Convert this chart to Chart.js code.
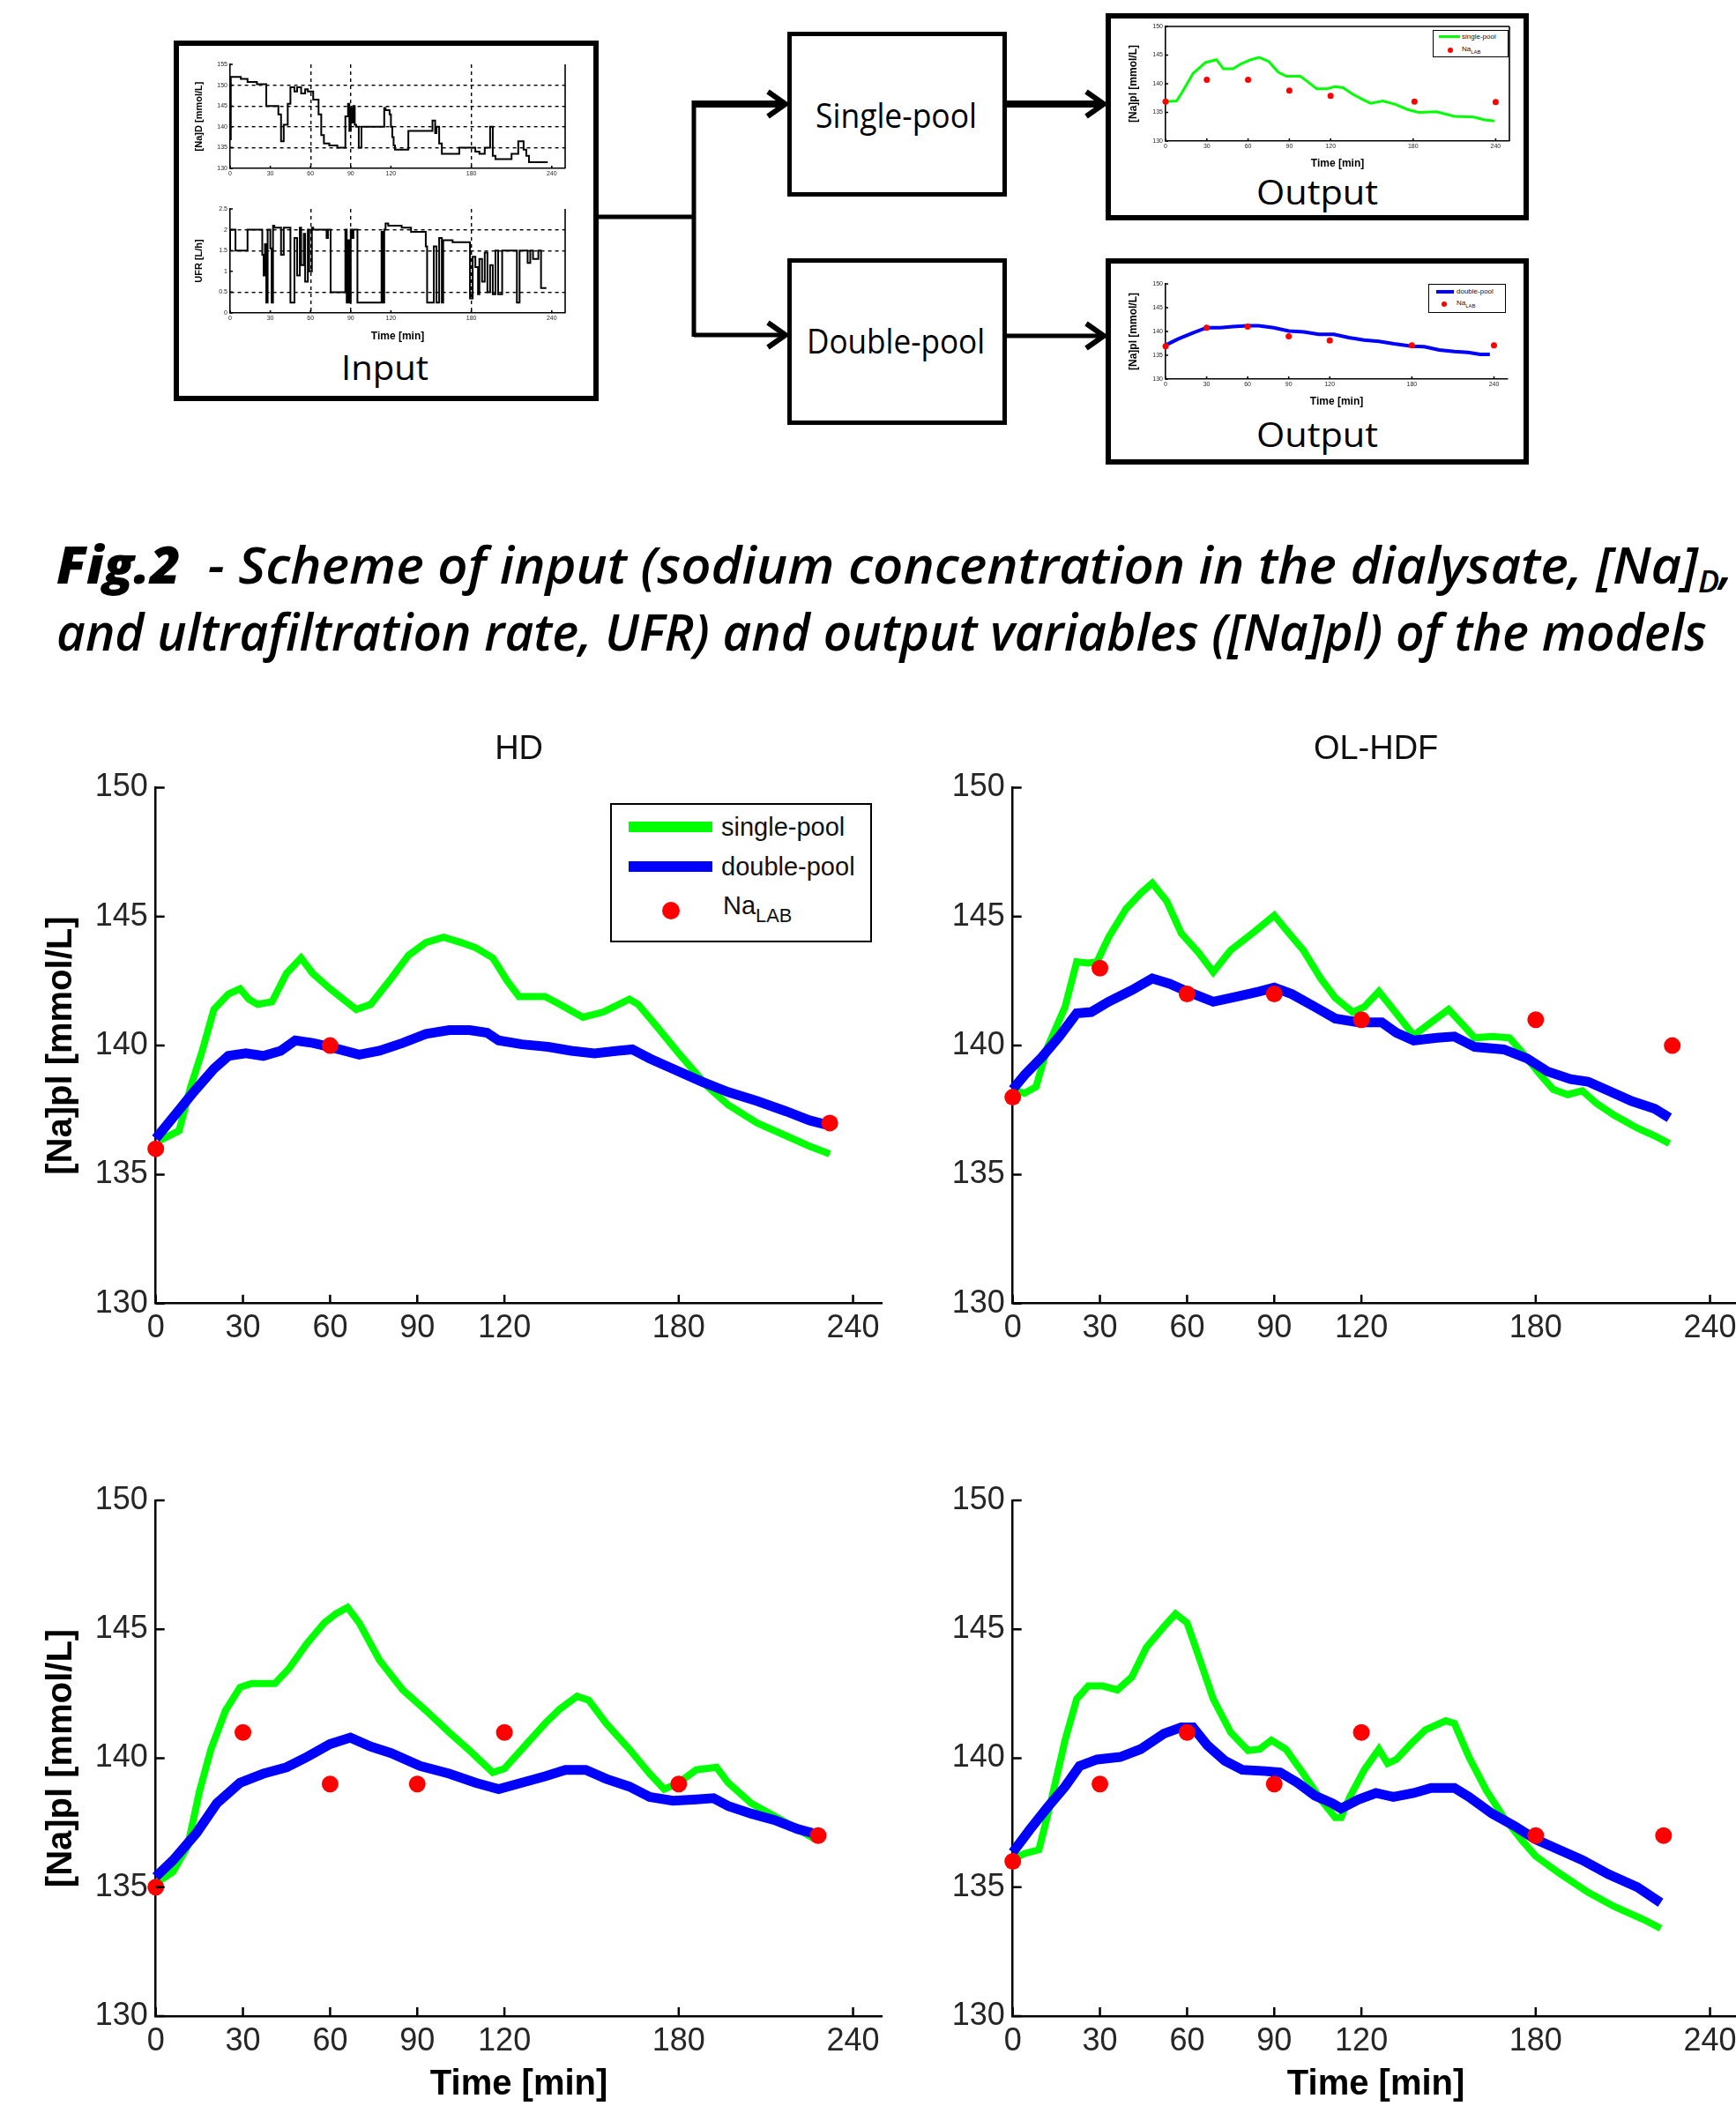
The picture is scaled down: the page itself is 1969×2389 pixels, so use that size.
<!DOCTYPE html>
<html>
<head>
<meta charset="utf-8">
<title>Fig.2 - [Na]pl models</title>
<script src="https://cdn.jsdelivr.net/npm/chart.js@4.4.1/dist/chart.umd.min.js"></script>
<style>
  html, body { margin: 0; padding: 0; background: #fff; }
  body { position: relative; width: 1969px; height: 2389px; overflow: hidden; font-family: 'Liberation Sans', Arial, sans-serif; }
  canvas { position: absolute; }
  svg { position: absolute; left: 0; top: 0; }
  .fit { position: absolute; white-space: nowrap; transform-origin: left center; line-height: 1; }
  .box-label { font-family: 'Open Sans', sans-serif; font-size: 38px; color: #000; }
  .caption { font-family: 'Open Sans', sans-serif; font-style: italic; font-weight: 600; font-size: 58px; color: #000; }
  .caption b { font-weight: 800; }
  .caption sub { font-size: 60%; vertical-align: -0.3em; line-height: 0; }
  .legend { position: absolute; background: #fff; border: 2px solid #000; box-sizing: border-box; }
  .legend .sw { position: absolute; }
  .legend .dot { position: absolute; border-radius: 50%; background: #ff0000; }
  .legend .tx { position: absolute; white-space: nowrap; transform: translateY(-50%); line-height: 1; color: #111; }
  .legend sub { font-size: 75%; vertical-align: -0.45em; line-height: 0; }
</style>
</head>
<body>

<svg width="1969" height="560">
  <g fill="none" stroke="#000">
    <rect x="200" y="49" width="476" height="403" stroke-width="6"/>
    <rect x="895.5" y="38.5" width="244" height="182" stroke-width="5"/>
    <rect x="895.5" y="295.5" width="244" height="184" stroke-width="5"/>
    <rect x="1257" y="18" width="474" height="229" stroke-width="6"/>
    <rect x="1257" y="296" width="474" height="228" stroke-width="6"/>
    <path d="M679 246 H787" stroke-width="5"/>
    <path d="M787 114 V382" stroke-width="5"/>
    <path d="M785 118 H889" stroke-width="8"/>
    <path d="M787 380 H889" stroke-width="5"/>
    <path d="M1142 118 H1250" stroke-width="8"/>
    <path d="M1142 381 H1250" stroke-width="5"/>
    <path d="M871 104 L891 118 L871 132" stroke-width="6"/>
    <path d="M871 366 L891 380 L871 394" stroke-width="6"/>
    <path d="M1232 104 L1252 118 L1232 132" stroke-width="6"/>
    <path d="M1232 367 L1252 381 L1232 395" stroke-width="6"/>
  </g>
</svg>

<span class="fit box-label" data-cx="436" data-cy="416" data-w="99">Input</span>
<span class="fit box-label" data-cx="1016" data-cy="130" data-w="183">Single-pool</span>
<span class="fit box-label" data-cx="1016" data-cy="386" data-w="202">Double-pool</span>
<span class="fit box-label" data-cx="1494" data-cy="217" data-w="138">Output</span>
<span class="fit box-label" data-cx="1494" data-cy="492" data-w="138">Output</span>

<canvas id="inNa"></canvas>
<canvas id="inUfr"></canvas>
<canvas id="outSingle"></canvas>
<canvas id="outDouble"></canvas>

<div class="legend" style="left:1625px;top:34px;width:86px;height:31px;border-width:1.5px;">
  <div class="sw" style="left:6px;top:5px;width:24px;height:3px;background:#00ff00;"></div>
  <div class="tx" style="left:32px;top:7px;font-size:8px;">single-pool</div>
  <div class="dot" style="left:16px;top:19px;width:6px;height:6px;"></div>
  <div class="tx" style="left:32px;top:21px;font-size:8px;">Na<sub>LAB</sub></div>
</div>
<div class="legend" style="left:1620px;top:322px;width:88px;height:33px;border-width:1.5px;">
  <div class="sw" style="left:8px;top:6px;width:20px;height:4px;background:#0000ff;"></div>
  <div class="tx" style="left:31px;top:8px;font-size:8px;">double-pool</div>
  <div class="dot" style="left:14px;top:19px;width:6px;height:6px;"></div>
  <div class="tx" style="left:31px;top:21px;font-size:8px;">Na<sub>LAB</sub></div>
</div>

<span class="fit caption" data-x="64" data-cy="640" data-w="1902"><b>Fig.2</b>&nbsp;&nbsp;- Scheme of input (sodium concentration in the dialysate, [Na]<sub>D</sub>,</span>
<span class="fit caption" data-x="64" data-cy="716" data-w="1872">and ultrafiltration rate, UFR) and output variables ([Na]pl) of the models</span>

<canvas id="hdTop"></canvas>
<canvas id="olTop"></canvas>
<canvas id="hdBottom"></canvas>
<canvas id="olBottom"></canvas>

<div class="legend" style="left:692px;top:911px;width:297px;height:158px;">
  <div class="sw" style="left:19px;top:19px;width:95px;height:12px;background:#00ff00;"></div>
  <div class="tx" style="left:124px;top:25px;font-size:29px;">single-pool</div>
  <div class="sw" style="left:19px;top:64px;width:95px;height:12px;background:#0000ff;"></div>
  <div class="tx" style="left:124px;top:70px;font-size:29px;">double-pool</div>
  <div class="dot" style="left:57px;top:110px;width:20px;height:20px;"></div>
  <div class="tx" style="left:126px;top:114px;font-size:29px;">Na<sub>LAB</sub></div>
</div>

<script>
var FONT = "'Liberation Sans', Arial, sans-serif";
var GREEN = '#00ff00';
var BLUE = '#0000ff';
var RED = '#ff0000';

var timeTicks = [0, 30, 60, 90, 120, 180, 240];
var naTicks = [130, 135, 140, 145, 150];

// HD, top
var hdSingleT = [1, 8, 12, 16, 20, 25, 29, 32, 35, 40, 45, 50, 54, 60, 69, 74, 81, 87, 93, 99, 105, 110, 116, 121, 125, 134, 139, 147, 154, 163, 166, 172, 180, 190, 197, 207, 217, 225, 232];
var hdSingleV = [136.3, 136.7, 138.4, 139.8, 141.4, 142.0, 142.2, 141.8, 141.6, 141.7, 142.8, 143.4, 142.8, 142.2, 141.4, 141.6, 142.6, 143.5, 144.0, 144.2, 144.0, 143.8, 143.4, 142.5, 141.9, 141.9, 141.6, 141.1, 141.3, 141.8, 141.6, 140.8, 139.7, 138.4, 137.7, 137.0, 136.5, 136.1, 135.8];
var hdDoubleT = [0, 8, 13, 20, 25, 31, 37, 43, 48, 54, 60, 70, 77, 85, 93, 101, 108, 114, 118, 126, 135, 143, 151, 159, 164, 170, 178, 188, 197, 207, 217, 225, 232];
var hdDoubleV = [136.4, 137.5, 138.2, 139.1, 139.6, 139.7, 139.6, 139.8, 140.2, 140.1, 139.95, 139.65, 139.8, 140.1, 140.45, 140.6, 140.6, 140.5, 140.2, 140.05, 139.95, 139.8, 139.7, 139.8, 139.85, 139.5, 139.1, 138.6, 138.2, 137.85, 137.45, 137.1, 136.9];
var hdLabT = [0, 60, 232];
var hdLabV = [136, 140, 137];

// OL-HDF, top
var olSingleT = [0, 4, 8, 12, 18, 22, 26, 29, 33, 39, 44, 48, 53, 58, 64, 69, 75, 83, 90, 94, 100, 106, 111, 117, 121, 126, 131, 138, 144, 150, 155, 159, 165, 171, 176, 181, 186, 191, 196, 201, 207, 215, 221, 226];
var olSingleV = [138.3, 138.15, 138.4, 139.95, 141.5, 143.25, 143.2, 143.25, 144.2, 145.3, 145.9, 146.3, 145.6, 144.35, 143.6, 142.85, 143.7, 144.4, 145.05, 144.5, 143.7, 142.6, 141.85, 141.3, 141.5, 142.1, 141.4, 140.4, 140.9, 141.4, 140.8, 140.3, 140.35, 140.3, 139.65, 138.95, 138.3, 138.1, 138.25, 137.75, 137.3, 136.8, 136.5, 136.2];
var olDoubleT = [0, 4, 10, 16, 22, 27, 33, 41, 48, 54, 60, 69, 77, 85, 90, 96, 104, 111, 119, 127, 132, 138, 146, 152, 159, 169, 177, 184, 192, 198, 205, 213, 221, 226];
var olDoubleV = [138.3, 138.85, 139.55, 140.35, 141.25, 141.3, 141.7, 142.15, 142.6, 142.4, 142.1, 141.7, 141.9, 142.1, 142.25, 142.0, 141.5, 141.05, 140.9, 140.9, 140.5, 140.2, 140.3, 140.35, 139.95, 139.85, 139.5, 139.0, 138.7, 138.6, 138.25, 137.85, 137.55, 137.2];
var olLabT = [0, 30, 60, 90, 120, 180, 227];
var olLabV = [138, 143, 142, 142, 141, 141, 140];

// HD, bottom
var hd2SingleT = [0, 6, 11, 15, 19, 24, 29, 33, 41, 46, 52, 58, 62, 66, 70, 77, 85, 93, 101, 108, 116, 120, 126, 134, 139, 145, 149, 155, 163, 170, 175, 180, 186, 193, 197, 205, 213, 221, 227];
var hd2SingleV = [135.15, 135.6, 136.6, 138.7, 140.35, 141.85, 142.75, 142.9, 142.9, 143.5, 144.45, 145.25, 145.6, 145.85, 145.25, 143.8, 142.65, 141.85, 141.0, 140.3, 139.45, 139.6, 140.35, 141.35, 141.9, 142.4, 142.25, 141.35, 140.35, 139.4, 138.8, 139.05, 139.55, 139.65, 139.05, 138.25, 137.75, 137.25, 136.85];
var hd2DoubleT = [0, 6, 14, 21, 29, 37, 45, 52, 60, 67, 74, 81, 91, 101, 110, 118, 126, 134, 141, 148, 155, 163, 170, 178, 186, 192, 197, 205, 213, 221, 226];
var hd2DoubleV = [135.4, 136.05, 137.1, 138.25, 139.05, 139.4, 139.65, 140.05, 140.55, 140.8, 140.45, 140.2, 139.7, 139.4, 139.05, 138.8, 139.05, 139.3, 139.55, 139.55, 139.2, 138.9, 138.5, 138.35, 138.4, 138.45, 138.15, 137.85, 137.6, 137.25, 137.1];
var hd2LabT = [0, 30, 60, 90, 120, 180, 228];
var hd2LabV = [135, 141, 139, 139, 141, 139, 137];

// OL-HDF, bottom
var ol2SingleT = [0, 4, 9, 13, 18, 22, 26, 31, 36, 41, 46, 52, 56, 60, 64, 69, 75, 81, 85, 89, 94, 100, 106, 111, 113, 116, 121, 126, 129, 132, 137, 142, 149, 152, 157, 163, 169, 175, 180, 188, 198, 207, 217, 223];
var ol2SingleV = [136.1, 136.3, 136.45, 138.25, 140.7, 142.3, 142.8, 142.8, 142.65, 143.15, 144.3, 145.1, 145.6, 145.25, 143.95, 142.3, 141.0, 140.3, 140.35, 140.7, 140.35, 139.4, 138.4, 137.7, 137.7, 138.5, 139.55, 140.35, 139.8, 139.95, 140.55, 141.1, 141.45, 141.35, 140.05, 138.75, 137.7, 136.85, 136.2, 135.55, 134.8, 134.25, 133.75, 133.4];
var ol2DoubleT = [0, 6, 12, 18, 23, 29, 37, 44, 52, 58, 62, 67, 73, 79, 87, 92, 98, 104, 110, 113, 119, 125, 131, 138, 144, 152, 157, 165, 173, 180, 188, 196, 205, 215, 223];
var ol2DoubleV = [136.35, 137.25, 138.1, 138.9, 139.7, 139.95, 140.05, 140.35, 140.95, 141.2, 141.2, 140.5, 139.9, 139.55, 139.5, 139.45, 139.05, 138.55, 138.25, 138.05, 138.4, 138.65, 138.5, 138.65, 138.85, 138.85, 138.5, 137.85, 137.35, 136.85, 136.45, 136.05, 135.5, 135.0, 134.4];
var ol2LabT = [0, 30, 60, 90, 120, 180, 224];
var ol2LabV = [136, 139, 141, 139, 141, 137, 137];

// scheme: input traces (step values from each time on)
var naDTicks = [130, 135, 140, 145, 150, 155];
var naDT = [0, 0.5, 8, 13, 20, 27, 36, 38, 40, 43, 45, 48, 50, 53, 56, 58, 62, 66, 68, 70, 74, 80, 86, 88, 89, 90, 91, 92, 93, 94, 96, 98, 115, 116, 119, 120, 121, 122, 123, 133, 151, 153, 154, 156, 158, 164, 171, 183, 186, 190, 194, 196, 198, 210, 215, 219, 221, 223, 229, 237];
var naDV = [140.5, 137, 152, 151.5, 150.75, 150.25, 145, 143, 136.5, 140.5, 145.5, 149.5, 148.5, 149.5, 148, 149, 148.5, 146.5, 143, 138, 136, 135.5, 135, 142.5, 145.5, 139, 144.5, 141, 145, 140.5, 140, 135, 140, 144.5, 144, 143, 140, 137.5, 135.5, 134.5, 139, 141.5, 138.5, 140, 136, 133.5, 133.5, 135, 134, 133.5, 135, 140, 133, 132.25, 133.5, 136.5, 134.5, 133, 131.5, 131.5];
var ufrTicks = [0, 0.5, 1, 1.5, 2, 2.5];
var ufrT = [0, 4, 6, 13, 24, 25, 26, 27, 28, 30, 31, 32, 33, 38, 40, 42, 45, 48, 50, 52, 53, 55, 56, 58, 59, 61, 62, 72, 73, 75, 86, 87, 88, 89, 90, 91, 92, 95, 113, 114, 115, 116, 118, 128, 135, 146, 147, 152, 154, 156, 158, 159, 166, 179, 181, 183, 185, 186, 188, 190, 192, 194, 196, 198, 200, 203, 205, 214, 216, 222, 224, 226, 230, 232, 234, 236];
var ufrV = [1.5, 2, 1.5, 1.5, 2, 1.4, 0.9, 1.65, 0.25, 2, 1.55, 0.25, 2.1, 2.05, 1.4, 2.05, 2.05, 0.25, 1.8, 0.9, 2.05, 1.15, 1.9, 0.75, 2, 1, 2.05, 2, 1.8, 2, 0.5, 2, 0.25, 1.75, 0.25, 2, 1.8, 2, 0.25, 1.95, 0.25, 2, 2.15, 2.1, 2.05, 1.95, 1.6, 0.25, 1.6, 0.25, 1.8, 0.25, 1.75, 1.7, 0.35, 1.35, 1.1, 0.45, 1.3, 0.75, 1.45, 0.5, 1.15, 0.45, 1.5, 0.45, 1.5, 1.5, 0.25, 1.5, 1.2, 1.5, 1.3, 1.5, 0.6, 0.6];

// scheme: output thumbnails
var out1SingleT = [0, 8, 12, 20, 29, 37, 42, 49, 55, 62, 68, 75, 82, 88, 98, 102, 110, 117, 123, 129, 136, 143, 149, 158, 167, 176, 184, 197, 210, 224, 232, 239];
var out1SingleV = [136.9, 137.0, 138.5, 141.8, 143.7, 144.2, 142.6, 142.6, 143.5, 144.2, 144.6, 143.9, 142.0, 141.3, 141.3, 140.6, 139.1, 139.1, 139.5, 139.3, 138.2, 137.3, 136.6, 137.0, 136.4, 135.5, 135.0, 135.1, 134.3, 134.2, 133.7, 133.5];
var out1LabT = [0, 30, 60, 90, 120, 181, 240];
var out1LabV = [136.9, 140.7, 140.7, 138.8, 137.9, 136.9, 136.8];
var out2DoubleT = [0, 9, 20, 30, 40, 49, 60, 68, 79, 90, 101, 112, 123, 134, 145, 156, 167, 180, 189, 200, 211, 221, 230, 237];
var out2DoubleV = [137.1, 138.4, 139.7, 140.8, 140.8, 141.0, 141.2, 141.2, 140.8, 140.1, 139.9, 139.4, 139.4, 138.7, 138.2, 137.9, 137.4, 136.9, 136.8, 136.1, 135.8, 135.6, 135.2, 135.2];
var out2LabT = [0, 30, 60, 90, 120, 180, 240];
var out2LabV = [136.9, 140.8, 141.0, 139.0, 138.1, 137.1, 137.1];

function points(t, v) {
	return t.map(function (x, i) { return {x: x, y: v[i]}; });
}

function lineSet(t, v, color, width, order, stepped) {
	return {data: points(t, v), borderColor: color, backgroundColor: color, borderWidth: width,
		pointRadius: 0, tension: 0, fill: false, clip: false, order: order, stepped: stepped || false};
}

function dotSet(t, v, radius) {
	return {data: points(t, v), showLine: false, pointRadius: radius, pointBackgroundColor: RED,
		pointBorderWidth: 0, borderColor: RED, clip: false, order: 0};
}

// tick marks pointing into the plot, as MATLAB draws them
var innerTicks = {
	id: 'innerTicks',
	afterDraw: function (chart, args, opts) {
		var ctx = chart.ctx, a = chart.chartArea, x = chart.scales.x, y = chart.scales.y;
		ctx.save();
		ctx.strokeStyle = '#000';
		ctx.lineWidth = opts.width;
		ctx.beginPath();
		x.ticks.forEach(function (t) {
			var px = x.getPixelForValue(t.value);
			ctx.moveTo(px, a.bottom);
			ctx.lineTo(px, a.bottom - opts.len);
		});
		y.ticks.forEach(function (t) {
			var py = y.getPixelForValue(t.value);
			ctx.moveTo(a.left, py);
			ctx.lineTo(a.left + opts.len, py);
		});
		ctx.stroke();
		ctx.restore();
	}
};

var frame = {
	id: 'frame',
	afterDraw: function (chart, args, opts) {
		if (!opts.sides) return;
		var ctx = chart.ctx, a = chart.chartArea;
		ctx.save();
		ctx.strokeStyle = '#000';
		ctx.lineWidth = opts.width;
		ctx.beginPath();
		if (opts.sides.indexOf('t') >= 0) { ctx.moveTo(a.left, a.top); ctx.lineTo(a.right, a.top); }
		if (opts.sides.indexOf('r') >= 0) { ctx.moveTo(a.right, a.top); ctx.lineTo(a.right, a.bottom); }
		ctx.stroke();
		ctx.restore();
	}
};

function makeChart(id, box, area, datasets, o) {
	var canvas = document.getElementById(id);
	canvas.width = box.w;
	canvas.height = box.h;
	canvas.style.left = box.x + 'px';
	canvas.style.top = box.y + 'px';

	var yWidth = area.left - box.x;
	var xHeight = box.y + box.h - area.bottom;
	var padTop = area.top - box.y;
	var title = {display: false};
	if (o.title) {
		var lh = o.titleSize * 1.2;
		var tTop = o.titleY - box.y - lh / 2;
		title = {display: true, text: o.title, fullSize: false, color: '#111',
			font: {family: FONT, size: o.titleSize, weight: 'normal', lineHeight: 1.2},
			padding: {top: tTop, bottom: padTop - lh - tTop}};
		padTop = 0;
	}

	function gridColor(list) {
		return function (c) {
			return (list && c.tick && list.indexOf(c.tick.value) >= 0) ? '#000' : 'rgba(0,0,0,0)';
		};
	}

	var tickFont = {family: FONT, size: o.tickSize};
	return new Chart(canvas.getContext('2d'), {
		type: 'line',
		data: {datasets: datasets},
		plugins: [innerTicks, frame],
		options: {
			responsive: false,
			animation: false,
			events: [],
			layout: {padding: {left: 0, right: box.x + box.w - area.right, top: padTop, bottom: 0}},
			plugins: {
				legend: {display: false},
				tooltip: {enabled: false},
				title: title,
				innerTicks: {len: o.tickLen, width: o.axisWidth},
				frame: {sides: o.frame, width: o.axisWidth}
			},
			scales: {
				x: {
					type: 'linear', min: 0, max: 250,
					afterBuildTicks: function (s) { s.ticks = timeTicks.map(function (v) { return {value: v}; }); },
					afterFit: function (s) { s.height = xHeight; },
					ticks: {font: tickFont, color: '#262626', padding: o.xPad, maxRotation: 0, autoSkip: false,
						callback: function (v) { return String(v); }},
					grid: {display: !!o.xGrid, drawTicks: false, color: gridColor(o.xGrid), lineWidth: o.gridWidth},
					border: {display: true, color: '#000', width: o.axisWidth, dash: o.dash},
					title: o.xTitle ? {display: true, text: o.xTitle.text, color: '#000',
						font: {family: FONT, size: o.xTitle.size, weight: 'bold', lineHeight: 1.2},
						padding: {top: 0, bottom: o.xTitle.pad}} : {display: false}
				},
				y: {
					min: o.yTicks[0], max: o.yTicks[o.yTicks.length - 1],
					afterBuildTicks: function (s) { s.ticks = o.yTicks.map(function (v) { return {value: v}; }); },
					afterFit: function (s) { s.width = yWidth; },
					ticks: {font: tickFont, color: '#262626', padding: o.yPad,
						callback: function (v) { return String(v); }},
					grid: {display: !!o.yGrid, drawTicks: false, color: gridColor(o.yGrid), lineWidth: o.gridWidth},
					border: {display: true, color: '#000', width: o.axisWidth, dash: o.dash},
					title: o.yTitle ? {display: true, text: o.yTitle.text, color: '#000',
						font: {family: FONT, size: o.yTitle.size, weight: 'bold', lineHeight: 1.2},
						padding: {top: o.yTitle.pad, bottom: 0}} : {display: false}
				}
			}
		}
	});
}

// main panels
var big = {tickSize: 36, xPad: 7, yPad: 9, axisWidth: 2.5, tickLen: 10, yTicks: naTicks};
var naTitle = {text: '[Na]pl [mmol/L]', size: 40, pad: 46};
var timeTitle = {text: 'Time [min]', size: 40, pad: 0};

function panel(id, x, y, h, top, bottom, sets, extra) {
	var area = {left: x + 176.7, right: x + 1002, top: top, bottom: bottom};
	var o = Object.assign({}, big, extra);
	makeChart(id, {x: x, y: y, w: 1010, h: h}, area, sets, o);
}

panel('hdTop', 0, 820, 740, 893.5, 1478.7, [
	lineSet(hdSingleT, hdSingleV, GREEN, 8, 2),
	lineSet(hdDoubleT, hdDoubleV, BLUE, 11, 1),
	dotSet(hdLabT, hdLabV, 9.5)
], {title: 'HD', titleY: 851, titleSize: 38, yTitle: naTitle});

panel('olTop', 972.3, 820, 740, 893.5, 1478.7, [
	lineSet(olSingleT, olSingleV, GREEN, 8, 2),
	lineSet(olDoubleT, olDoubleV, BLUE, 11, 1),
	dotSet(olLabT, olLabV, 9.5)
], {title: 'OL-HDF', titleY: 851, titleSize: 38});

panel('hdBottom', 0, 1640, 749, 1702, 2287, [
	lineSet(hd2SingleT, hd2SingleV, GREEN, 8, 2),
	lineSet(hd2DoubleT, hd2DoubleV, BLUE, 11, 1),
	dotSet(hd2LabT, hd2LabV, 9.5)
], {yTitle: naTitle, xTitle: timeTitle});

panel('olBottom', 972.3, 1640, 749, 1702, 2287, [
	lineSet(ol2SingleT, ol2SingleV, GREEN, 8, 2),
	lineSet(ol2DoubleT, ol2DoubleV, BLUE, 11, 1),
	dotSet(ol2LabT, ol2LabV, 9.5)
], {xTitle: timeTitle});

// thumbnails inside the scheme
var mini = {tickSize: 7, xPad: 2, yPad: 3, axisWidth: 1.6, tickLen: 3, gridWidth: 1.4, dash: [4, 4]};

makeChart('inNa', {x: 205, y: 62, w: 445, h: 150}, {left: 261, top: 73, right: 641, bottom: 191},
	[lineSet(naDT, naDV, '#000', 2, 1, 'after')],
	Object.assign({}, mini, {yTicks: naDTicks, xGrid: [60, 90, 180], yGrid: [135, 140, 145, 150], frame: 'r',
		yTitle: {text: '[Na]D [mmol/L]', size: 11, pad: 14}}));

makeChart('inUfr', {x: 205, y: 226, w: 445, h: 170}, {left: 261, top: 237, right: 641, bottom: 355},
	[lineSet(ufrT, ufrV, '#000', 2, 1, 'after')],
	Object.assign({}, mini, {yTicks: ufrTicks, xGrid: [60, 90, 180], yGrid: [0.5, 1.5, 2], frame: 'r',
		yTitle: {text: 'UFR [L/h]', size: 11, pad: 14},
		xTitle: {text: 'Time [min]', size: 12, pad: 7}}));

makeChart('outSingle', {x: 1262, y: 22, w: 460, h: 178}, {left: 1322, top: 30, right: 1712, bottom: 160},
	[lineSet(out1SingleT, out1SingleV, GREEN, 3, 2), dotSet(out1LabT, out1LabV, 3.5)],
	Object.assign({}, mini, {yTicks: naTicks, frame: 'tr',
		yTitle: {text: '[Na]pl [mmol/L]', size: 12, pad: 16},
		xTitle: {text: 'Time [min]', size: 12, pad: 7}}));

makeChart('outDouble', {x: 1262, y: 314, w: 460, h: 156}, {left: 1322, top: 322, right: 1710, bottom: 430},
	[lineSet(out2DoubleT, out2DoubleV, BLUE, 4, 1), dotSet(out2LabT, out2LabV, 3.5)],
	Object.assign({}, mini, {yTicks: naTicks,
		yTitle: {text: '[Na]pl [mmol/L]', size: 12, pad: 16},
		xTitle: {text: 'Time [min]', size: 12, pad: 7}}));

// squeeze the scheme and caption text to the widths in the figure
document.querySelectorAll('.fit').forEach(function (el) {
	var w = parseFloat(el.dataset.w);
	var left = el.dataset.x !== undefined ? parseFloat(el.dataset.x) : parseFloat(el.dataset.cx) - w / 2;
	el.style.left = left + 'px';
	el.style.top = el.dataset.cy + 'px';
	var natural = el.getBoundingClientRect().width;
	el.style.transform = 'translateY(-50%) scaleX(' + (w / natural) + ')';
});
</script>
</body>
</html>
